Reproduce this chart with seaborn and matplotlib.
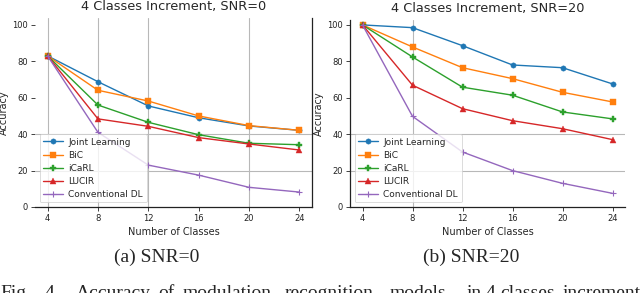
import numpy as np
import pandas as pd
import matplotlib
matplotlib.use("Agg")
import matplotlib.pyplot as plt
import seaborn as sns

# Data
classes = [4, 8, 12, 16, 20, 24]
methods = ["Joint Learning", "BiC", "iCaRL", "LUCIR", "Conventional DL"]

acc_snr0 = {
    "Joint Learning": [83, 68.8, 55.5, 49, 44.5, 42.1],
    "BiC": [83, 64.1, 58.2, 50, 44.7, 42.1],
    "iCaRL": [83, 56, 46.5, 39.7, 35, 34.2],
    "LUCIR": [83, 48.4, 44.3, 38.1, 34.6, 31.3],
    "Conventional DL": [83, 41, 23, 17.5, 10.8, 8.2],
}
acc_snr20 = {
    "Joint Learning": [100, 98.5, 88.6, 78, 76.5, 67.6],
    "BiC": [100, 87.9, 76.5, 70.5, 63, 57.7],
    "iCaRL": [100, 82.4, 65.8, 61.4, 52.2, 48.4],
    "LUCIR": [100, 66.9, 54, 47.4, 43, 37],
    "Conventional DL": [100, 49.8, 30.2, 20, 13, 7.5],
}

colors = ["#1f77b4", "#ff7f0e", "#2ca02c", "#d62728", "#9467bd"]
markers = ["o", "s", "P", "^", "+"]

sns.set_theme(style="white")
plt.rcParams["font.family"] = ["DejaVu Sans"]

W, H = 640, 293
fig = plt.figure(figsize=(6.4, 2.93), dpi=100)

def px_axes(x0, x1, ytop, ybot):
    return fig.add_axes([x0 / W, (H - ybot) / H, (x1 - x0) / W, (ybot - ytop) / H])

ax1 = px_axes(35, 312, 18, 207)
ax2 = px_axes(350, 625, 20, 207)

def draw_panel(ax, acc, title, ytop, vgrid, spine_side):
    for name, c, m in zip(methods, colors, markers):
        ms = 5 if m == "+" else 3.8
        sns.lineplot(x=classes, y=acc[name], ax=ax, color=c, marker=m,
                     markersize=ms, markeredgewidth=0.8 if m == "+" else 0.3,
                     markeredgecolor=c, linewidth=1.0, label=name, zorder=3)
    ax.set_xlim(3, 25)
    ax.set_ylim(0, ytop)
    ax.set_xticks(classes)
    ax.set_yticks([0, 20, 40, 60, 80, 100])
    ax.grid(False)
    # only some grid lines survive in the reference
    for v in vgrid:
        ax.axvline(v, color="#b8b8b8", lw=0.8, zorder=1)
    for h in [20, 40]:
        ax.axhline(h, color="#b8b8b8", lw=0.8, zorder=1)
    for s in ["top", "left", "right", "bottom"]:
        ax.spines[s].set_visible(False)
    for s in ["bottom", spine_side]:
        ax.spines[s].set_visible(True)
        ax.spines[s].set_color("#222222")
        ax.spines[s].set_linewidth(0.9)
    ax.tick_params(axis="both", labelsize=6, length=3, width=0.6,
                   colors="#222222", pad=2, left=True, bottom=True)
    ax.set_xlabel("Number of Classes", fontsize=7, labelpad=3)
    ax.set_ylabel("Accuracy", fontsize=7)
    ax.yaxis.set_label_coords(-0.095, 0.5)
    ax.set_title(title, fontsize=9.3, pad=6)
    leg = ax.legend(loc="lower left", fontsize=6.5, frameon=True, framealpha=0.8,
                    edgecolor="0.8", fancybox=True, borderpad=0.4,
                    labelspacing=0.45, handlelength=2.2, handletextpad=0.6,
                    borderaxespad=0.5)
    leg.get_frame().set_linewidth(0.6)

draw_panel(ax1, acc_snr0, "4 Classes Increment, SNR=0", 103.8, [4, 8, 12, 20], "right")
draw_panel(ax2, acc_snr20, "4 Classes Increment, SNR=20", 102.7, [8], "left")

serif = ["Liberation Serif", "DejaVu Serif"]
fig.text(157 / W, (H - 262) / H, "(a) SNR=0", family=serif, fontsize=14,
         ha="center", va="baseline")
fig.text(471 / W, (H - 262) / H, "(b) SNR=20", family=serif, fontsize=14,
         ha="center", va="baseline")

# caption line, cut off at the bottom edge of the screenshot
caption_words = ["Fig.", "4.", "Accuracy", "of", "modulation", "recognition",
                 "models", "in", "4", "classes", "increment"]
caption_x = [0, 45, 76, 158, 183, 285, 390, 467, 486, 500, 563]
for w, x in zip(caption_words, caption_x):
    fig.text(x / W, (H - 298) / H, w, family=serif, fontsize=14,
             ha="left", va="baseline")

fig.savefig("out.png", dpi=100)
